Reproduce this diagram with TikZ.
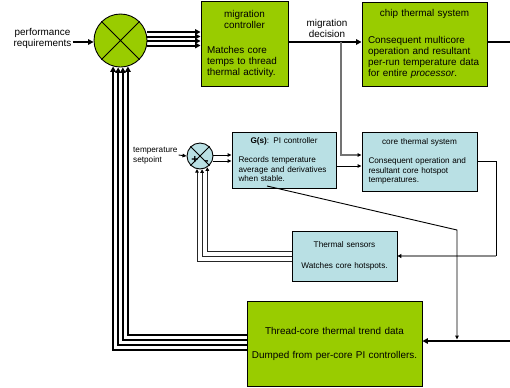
\documentclass[tikz,border=0pt]{standalone}
\usepackage{fontspec}
\setmainfont{Liberation Sans}
\usetikzlibrary{arrows.meta,calc}
\definecolor{mygreen}{RGB}{153,204,0}
\definecolor{myblue}{RGB}{185,224,228}
\newcommand\bigfnt{\fontsize{9.9bp}{11bp}\selectfont}
\newcommand\smallfnt{\fontsize{8.2bp}{9.5bp}\selectfont}
\setlength{\parindent}{0pt}
\begin{document}
\begin{tikzpicture}[x=1bp,y=-1bp,
  thk/.style={line width=2bp},
  thkarr/.style={line width=2bp,-{Triangle[length=5.5bp,width=5.5bp]}},
  thinarr/.style={line width=0.9bp,-{Triangle[length=4bp,width=3.6bp]}},
  fbthin/.style={line width=0.9bp,black!85,-{Triangle[length=3.5bp,width=3.5bp,color=black]}},
  grayarr/.style={line width=1.2bp,black!55,-{Triangle[length=4bp,width=3.6bp,color=black]}},
  gbox/.style={draw,line width=0.9bp,fill=mygreen,inner xsep=6bp,inner ysep=0bp,font=\bigfnt},
  bbox/.style={draw,line width=0.9bp,fill=myblue,inner xsep=6.5bp,inner ysep=0bp,font=\smallfnt},
  junction/.style={circle,draw,line width=0.9bp,inner sep=0pt},
  sign/.style={font=\bfseries\fontsize{12bp}{12bp}\selectfont,inner sep=0pt},
  label/.style={inner sep=1bp}]
\useasboundingbox (0,0) rectangle (510,387);
\fill[white] (0,0) rectangle (510,387);

% boxes
\node[gbox,minimum width=87bp,minimum height=85bp,text width=75bp] (mc) at (244.5,43.5)
  {{\centering migration\\controller\par}\vspace{14bp}{\raggedright Matches core\\temps to thread\\thermal activity.\par}};
\node[gbox,minimum width=125bp,minimum height=84bp,text width=113bp] (chip) at (424.5,44)
  {{\centering chip thermal system\par}\vspace{15.5bp}{\raggedright Consequent multicore\\operation and resultant\\per-run temperature data\\for entire \textit{processor}.\par}};
\node[bbox,minimum width=104bp,minimum height=56bp,text width=91bp] (gs) at (284,160)
  {{\centering\textbf{G(s)}: PI controller\par}\vspace{9.5bp}{\raggedright Records temperature\\average and derivatives\\when stable.\par}};
\node[bbox,minimum width=115bp,minimum height=59bp,text width=102bp] (ctm) at (419.5,161.5)
  {{\centering core thermal system\par}\vspace{10bp}{\raggedright Consequent operation and\\resultant core hotspot\\temperatures.\par}};
\node[bbox,minimum width=105bp,minimum height=50bp,text width=92bp] (ts) at (344.5,256)
  {{\centering Thermal sensors\par\vspace{11.5bp}Watches core hotspots.\par}};
\node[gbox,minimum width=175bp,minimum height=85bp,inner xsep=4bp,text width=167bp] (tc) at (334.5,343.5)
  {{\centering Thread-core thermal trend data\par\vspace{13bp}Dumped from per-core PI controllers.\par}};

% junctions
\node[junction,fill=mygreen,minimum size=53bp] (big) at (120.5,40.5) {};
\draw[line width=0.9bp] (big.north west) -- (big.south east) (big.north east) -- (big.south west);
\node[junction,fill=myblue,minimum size=26bp] (sc) at (200,156) {};
\draw[line width=0.9bp] (sc.north west) -- (sc.south east) (sc.north east) -- (sc.south west);
\node[sign] (plus) at (195,160) {+};
\node[sign] (minus) at (206.5,163) {-};

% labels
\node[label,font=\bigfnt,align=center] (pr) at (42.5,38) {performance\\requirements};
\node[label,font=\bigfnt,align=center] (md) at (327,28) {migration\\decision};
\node[label,font=\smallfnt,align=left,anchor=west] (tsp) at (132,155.5) {temperature\\setpoint};

% coordinates
\coordinate (rt) at (510,42);
\coordinate (rb) at (510,341);
\coordinate (br) at (341,42);
\coordinate (c2) at (496,256);
\coordinate (d1) at (267,186);
\coordinate (d2) at (457,230);
\coordinate (d3) at (457,339.5);

% connectors
\draw[thkarr] (pr.east |- 0,42) -- (big.west |- 0,42);
\foreach \yy in {32,36.5,41,45.5}
  \draw[thkarr] (big.east |- 0,\yy) -- (mc.west |- 0,\yy);
\draw[thkarr] (mc.east |- 0,42) -- (chip.west |- 0,42);
\draw[thk] (chip.east |- rt) -- (rt);
\draw[grayarr] (br) |- (ctm.west |- 0,155);
\draw[thinarr] (gs.east |- 0,166) -- (ctm.west |- 0,166);
\draw[thinarr] (tsp.east |- 0,155) -- (sc.west);
\draw[thinarr] (sc.east |- 0,155) -- (gs.west |- 0,155);
\draw[thinarr] (sc.east |- 0,161) -- (gs.west |- 0,161);
\draw[line width=0.9bp] (ctm.east |- 0,161) -| (c2);
\draw[line width=1.5bp,black!45,-{Triangle[length=4bp,width=4bp,color=black]}] (c2) -- (ts.east |- c2);
\draw[fbthin] (ts.west |- 0,251) -| (sc.-57);
\draw[fbthin] (ts.west |- 0,256) -| (sc.-81);
\draw[fbthin] (ts.west |- 0,261) -| (sc.-103);
\draw[thinarr] (d1) -- (d2) -- (d3);
\draw[thkarr] (rb) -- (tc.east |- rb);
\draw[thkarr] (tc.west |- 0,335) -| (big.-74);
\draw[thkarr] (tc.west |- 0,340) -| (big.-85);
\draw[thkarr] (tc.west |- 0,345) -| (big.-95);
\draw[thkarr] (tc.west |- 0,350) -| (big.-106);
\end{tikzpicture}
\end{document}
